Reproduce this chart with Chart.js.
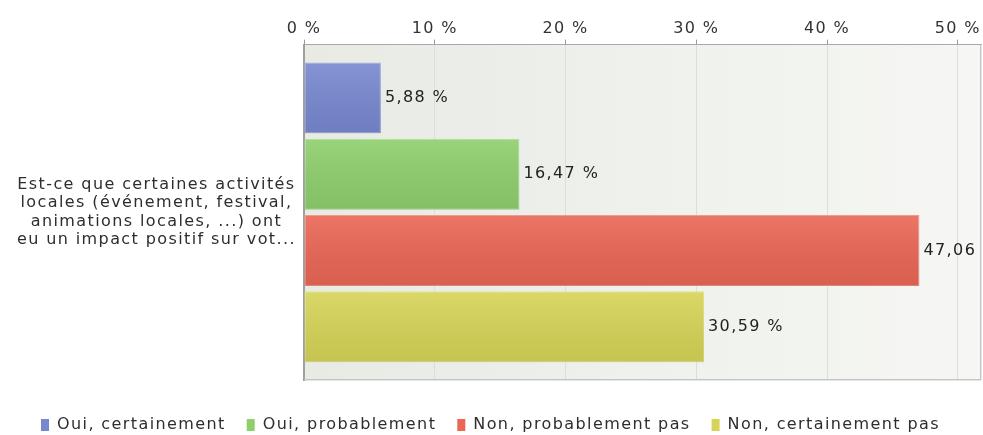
<!DOCTYPE html>
<html>
<head>
<meta charset="utf-8">
<script src="https://cdn.jsdelivr.net/npm/chart.js@4"></script>
<style>
    html, body { margin: 0; padding: 0; background: #fff; }
    canvas { display: block; }
</style>
</head>
<body>
<canvas id="myChart" width="983" height="435"></canvas>
<script>
// data
const categories = [['Est-ce que certaines activités', 'locales (événement, festival,', 'animations locales, ...) ont', 'eu un impact positif sur vot...']]
const seriesNames = ['Oui, certainement', 'Oui, probablement', 'Non, probablement pas', 'Non, certainement pas']
const seriesValues = [[5.88], [16.47], [47.06], [30.59]]
const tickValues = [0, 10, 20, 30, 40, 50]
const axisMax = 51.77

const barColors = ['#7888d0', '#8ecf6d', '#ea6655', '#d6d457']
const barBorders = ['#93a0dc', '#a6dc8a', '#f28d80', '#e2e07e']
const FONT = 'DejaVu Sans'
const SPACING = '1.4px'

chartJS()

function formatValue(v) {
    return v.toFixed(2).replace('.', ',')
}

function chartJS() {
    let ctx = document.getElementById('myChart').getContext('2d')

    let datasets = []
    for (let i = 0; i < seriesNames.length; i++) {
        datasets.push({
            label: seriesNames[i],
            data: seriesValues[i],
            backgroundColor: barColors[i],
            borderColor: barBorders[i],
            borderWidth: 1,
            borderSkipped: false,
            categoryPercentage: 0.91,
            barPercentage: 0.93
        })
    }

    const look = {
        id: 'look',
        beforeUpdate(chart) {
            chart.ctx.letterSpacing = SPACING
        },
        beforeDraw(chart) {
            let c = chart.ctx, a = chart.chartArea
            c.letterSpacing = SPACING
            let g = c.createLinearGradient(a.left, 0, a.right, 0)
            g.addColorStop(0, '#e7ebe4')
            g.addColorStop(1, '#f6f7f4')
            c.fillStyle = g
            c.fillRect(a.left, a.top, a.right - a.left, a.bottom - a.top)
        },
        afterDatasetsDraw(chart) {
            let c = chart.ctx
            c.save()
            for (let i = 0; i < chart.data.datasets.length; i++) {
                let meta = chart.getDatasetMeta(i)
                meta.data.forEach((bar, j) => {
                    let p = bar.getProps(['x', 'y', 'base', 'height'])
                    let left = Math.min(p.x, p.base)
                    let top = p.y - p.height / 2
                    // soft vertical shading on each bar
                    let g = c.createLinearGradient(0, top, 0, top + p.height)
                    g.addColorStop(0, 'rgba(255,255,255,0.10)')
                    g.addColorStop(1, 'rgba(0,0,0,0.07)')
                    c.fillStyle = g
                    c.fillRect(left, top, Math.abs(p.x - p.base), p.height)

                    // value label
                    c.font = '16px "' + FONT + '"'
                    c.fillStyle = '#222'
                    c.textBaseline = 'middle'
                    c.textAlign = 'left'
                    let text = formatValue(chart.data.datasets[i].data[j]) + ' %'
                    if (p.x + 5 + c.measureText(text).width > chart.width) {
                        text = formatValue(chart.data.datasets[i].data[j])
                    }
                    c.fillText(text, p.x + 4, p.y)
                })
            }
            c.restore()
        },
        afterDraw(chart) {
            let c = chart.ctx, a = chart.chartArea
            c.save()
            c.strokeStyle = '#c4c4c4'
            c.lineWidth = 1
            c.beginPath()
            c.moveTo(a.right - 0.5, a.top)
            c.lineTo(a.right - 0.5, a.bottom - 0.5)
            c.lineTo(a.left, a.bottom - 0.5)
            c.stroke()
            c.strokeStyle = '#e6e6e6'
            c.beginPath()
            c.moveTo(a.right + 0.5, a.top + 1)
            c.lineTo(a.right + 0.5, a.bottom + 0.5)
            c.lineTo(a.left + 1, a.bottom + 0.5)
            c.stroke()
            c.restore()
        }
    }

    window.bar = new Chart(ctx, {
        type: 'bar',
        data: {
            labels: categories,
            datasets: datasets
        },
        plugins: [look],
        options: {
            indexAxis: 'y',
            responsive: false,
            animation: false,
            devicePixelRatio: 1,
            layout: {
                padding: { top: 0, right: 2, left: 0, bottom: -8 }
            },
            scales: {
                x: {
                    position: 'top',
                    min: 0,
                    max: axisMax,
                    afterBuildTicks: function (axis) {
                        axis.ticks = tickValues.map(v => ({ value: v }))
                    },
                    afterFit: function (axis) {
                        axis.height = 44
                    },
                    grid: {
                        color: '#dcdedb',
                        tickColor: '#9a9a9a',
                        tickLength: 5
                    },
                    border: { color: '#a8a8a8', width: 1 },
                    ticks: {
                        padding: 1.4,
                        color: '#333',
                        font: { family: FONT, size: 16 },
                        maxRotation: 0,
                        callback: function (v) { return v + ' %' }
                    }
                },
                y: {
                    afterFit: function (axis) {
                        axis.width = 304
                    },
                    grid: { display: false, drawTicks: false },
                    border: { color: '#a0a0a0', width: 2 },
                    ticks: {
                        crossAlign: 'center',
                        padding: 8,
                        color: '#2e2e2e',
                        font: { family: FONT, size: 16, lineHeight: 1.145 }
                    }
                }
            },
            plugins: {
                tooltip: { enabled: false },
                legend: {
                    position: 'bottom',
                    title: {
                        display: true,
                        text: '',
                        font: { size: 10, lineHeight: 1 },
                        padding: { top: 6, bottom: 0 }
                    },
                    labels: {
                        boxWidth: 8,
                        boxHeight: 12,
                        padding: 21,
                        color: '#2e2e2e',
                        font: { family: FONT, size: 16 },
                        generateLabels: function (chart) {
                            return chart.data.datasets.map((ds, i) => ({
                                text: ds.label,
                                fillStyle: barColors[i],
                                strokeStyle: barColors[i],
                                fontColor: '#2e2e2e',
                                lineWidth: 0,
                                hidden: false,
                                datasetIndex: i
                            }))
                        }
                    }
                }
            }
        }
    })
}
</script>
</body>
</html>
